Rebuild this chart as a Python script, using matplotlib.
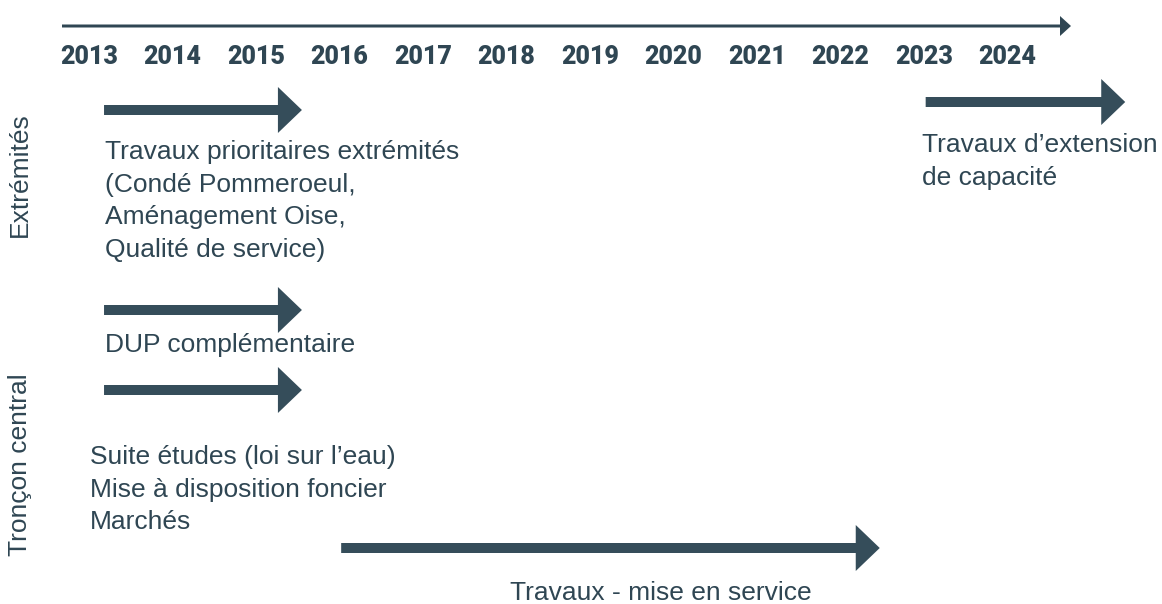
import matplotlib
matplotlib.use("Agg")
import matplotlib.pyplot as plt
from matplotlib.patches import FancyArrow

# timeline years shown on top
years = [2013, 2014, 2015, 2016, 2017, 2018, 2019, 2020, 2021, 2022, 2023, 2024]

# phases: label lines, start year, end year
phase_labels = [
    ["Travaux prioritaires extrémités", "(Condé Pommeroeul,", "Aménagement Oise,", "Qualité de service)"],
    ["Travaux d\u2019extension", "de capacité"],
    ["DUP complémentaire"],
    ["Suite études (loi sur l\u2019eau)", "Mise à disposition foncier", "Marchés"],
    ["Travaux - mise en service"],
]
phase_start = [2013.18, 2023.02, 2013.18, 2013.18, 2016.02]
phase_end = [2015.55, 2025.41, 2015.55, 2015.55, 2022.47]

group_labels = ["Extrémités", "Tronçon central"]

# layout (pixels from top, text offsets)
W, H = 1162, 604
px_per_year = 83.5
x_2013 = 89
arrow_y = [110, 102, 310, 390, 548]
text_x = [105, 922, 105, 90, 510]
text_y = [152, 145, 345, 457, 593]
line_step = 32.7
group_y = [175, 465]

TEXT = "#2f4653"
ARROW = "#354d5a"
BODY = ["Liberation Sans", "DejaVu Sans"]

x_left = 2013 - x_2013 / px_per_year
x_right = x_left + W / px_per_year

def to_year(px):
    return x_left + px / px_per_year

fig = plt.figure(figsize=(W / 100, H / 100), dpi=100)
ax = fig.add_axes([0, 0, 1, 1])
ax.set_xlim(x_left, x_right)
ax.set_ylim(H, 0)
ax.axis("off")

# top time axis
ax.add_patch(FancyArrow(to_year(62), 26, to_year(1071) - to_year(62), 0, width=3,
                        head_width=20, head_length=11 / px_per_year,
                        length_includes_head=True, color=TEXT, lw=0))
for yr in years:
    ax.text(yr, 57, str(yr), ha="center", va="center", fontsize=18,
            family=["Roboto", "DejaVu Sans"], weight="black", color=TEXT)

# phase arrows and texts
for i in range(len(phase_labels)):
    ax.add_patch(FancyArrow(phase_start[i], arrow_y[i], phase_end[i] - phase_start[i], 0,
                            width=10, head_width=46, head_length=24 / px_per_year,
                            length_includes_head=True, color=ARROW, lw=0))
    for j, line in enumerate(phase_labels[i]):
        ax.text(to_year(text_x[i]), text_y[i] + j * line_step, line, ha="left", va="center",
                fontsize=19, family=BODY, color=TEXT)

for lab, gy in zip(group_labels, group_y):
    ax.text(to_year(20), gy, lab, rotation=90, ha="center", va="center", fontsize=19,
            family=BODY, color=TEXT)

fig.savefig("out.png", dpi=100, facecolor="white")
